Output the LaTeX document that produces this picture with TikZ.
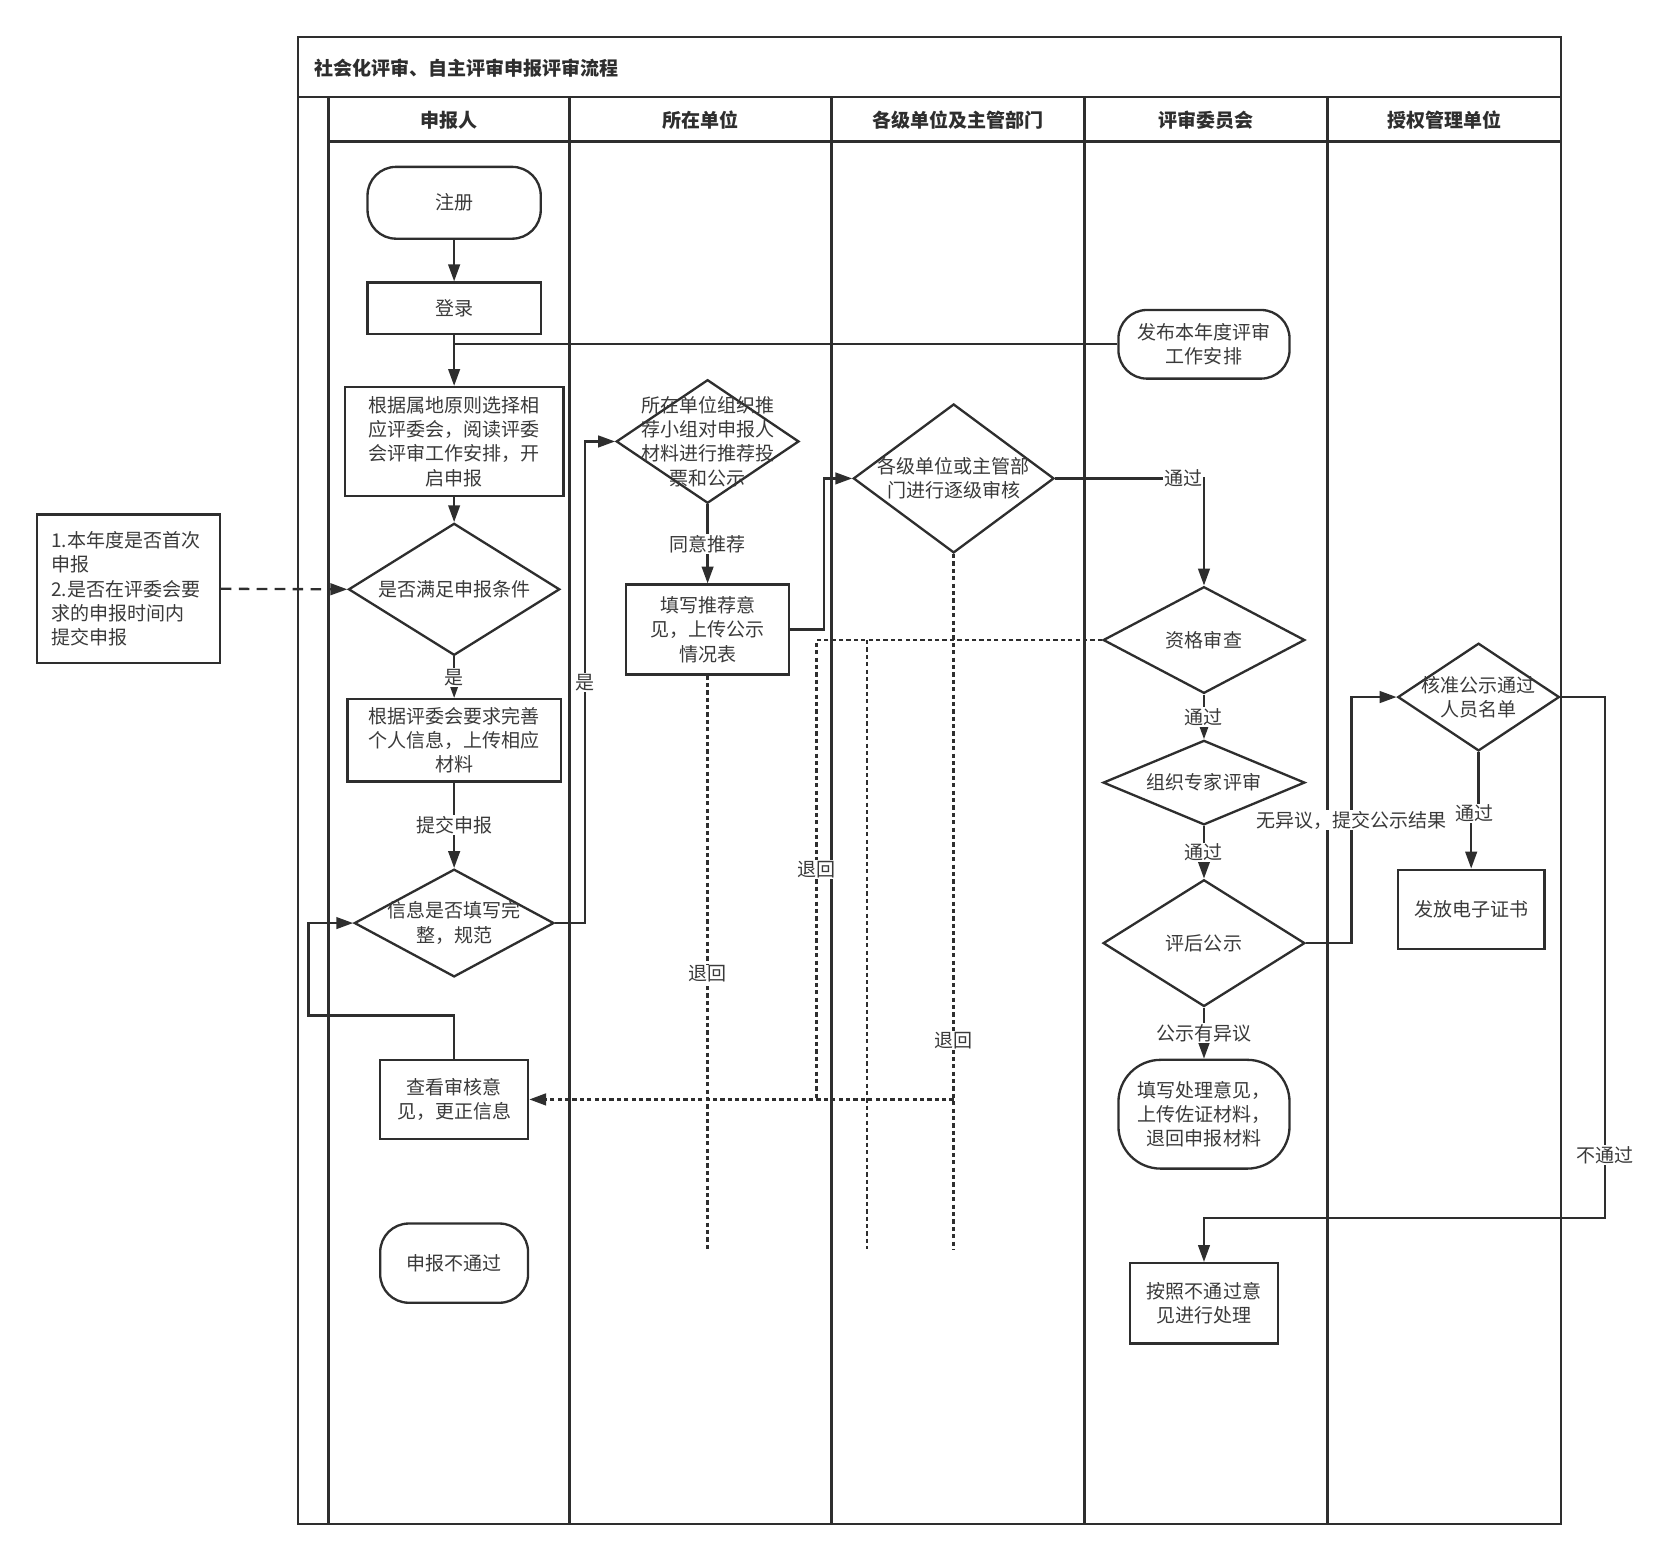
\documentclass[tikz,border=0pt]{standalone}
\usepackage{fontspec}
\setmainfont{Noto Sans CJK SC}
\usetikzlibrary{arrows.meta,shapes.geometric}
\definecolor{ink}{HTML}{2E2E2E}
\definecolor{txt}{HTML}{3A3A3A}
\tikzset{
	proc/.style={draw=ink, line width=2.2pt, rectangle, inner sep=0pt, align=center, text=txt},
	term/.style={proc, rounded corners=27pt},
	dec/.style={draw=ink, line width=2.2pt, diamond, inner sep=0pt},
	dectext/.style={align=center, text=txt, inner sep=0pt},
	hdr/.style={font=\fontsize{18}{23}\selectfont\bfseries, text=ink},
	lane/.style={draw=ink, line width=2.5pt},
	ln/.style={draw=ink, line width=2.2pt},
	arr/.style={ln, -{Triangle[length=16pt, width=11pt]}},
	dashpat/.style={dash pattern=on 10pt off 7pt},
	dot/.style={draw=ink, line width=2.6pt, dash pattern=on 4pt off 3pt},
	dotarr/.style={dot, -{Triangle[length=16pt, width=11pt]}},
	lbl/.style={fill=white, inner sep=1pt, text=txt}
}

\begin{document}
\begin{tikzpicture}[x=1pt, y=-1pt, font=\fontsize{18}{23}\selectfont]
			%%%%% START %%%%%
			\useasboundingbox (0, 0) rectangle (1568, 1478);

			% pool and lanes
			\draw[lane] (282, 35) rectangle (1478, 1443);
			\draw[lane] (282, 92) -- (1478, 92);
			\draw[lane] (311, 134) -- (1478, 134);
			\draw[lane] (311, 92) -- (311, 1443);
			\draw[lane] (539, 92) -- (539, 1443);
			\draw[lane] (787, 92) -- (787, 1443);
			\draw[lane] (1027, 92) -- (1027, 1443);
			\draw[lane] (1257, 92) -- (1257, 1443);

			\node[hdr, anchor=west] (tt) at (294, 65) {社会化评审、自主评审申报评审流程};
			\node[hdr] (h1) at (425, 114) {申报人};
			\node[hdr] (h2) at (663, 114) {所在单位};
			\node[hdr] (h3) at (907, 114) {各级单位及主管部门};
			\node[hdr] (h4) at (1142, 114) {评审委员会};
			\node[hdr] (h5) at (1368, 114) {授权管理单位};

			% applicant lane
			\node[term, minimum width=164pt, minimum height=68pt] (zc) at (430, 192) {注册};
			\node[proc, minimum width=164pt, minimum height=49pt] (dl) at (430, 292) {登录};
			\node[proc, minimum width=207pt, minimum height=103pt] (xz) at (430, 418) {根据属地原则选择相\\应评委会，阅读评委\\会评审工作安排，开\\启申报};
			\node[dec, minimum width=200pt, minimum height=125pt, label={[dectext]center:{是否满足申报条件}}] (sf) at (430, 558) {};
			\node[proc, minimum width=202pt, minimum height=78pt] (ws) at (430, 701) {根据评委会要求完善\\个人信息，上传相应\\材料};
			\node[dec, minimum width=189pt, minimum height=102pt, label={[dectext]center:{信息是否填写完\\整，规范}}] (xx) at (430, 874) {};
			\node[proc, minimum width=140pt, minimum height=75pt] (ck) at (430, 1041) {查看审核意\\见，更正信息};
			\node[term, minimum width=140pt, minimum height=75pt] (bg) at (430, 1196) {申报不通过};

			% note
			\node[proc, minimum width=173pt, minimum height=141pt, text width=146pt, align=left] (nt) at (121.5, 557.5) {1.本年度是否首次\\申报\\2.是否在评委会要\\求的申报时间内\\提交申报};

			% unit lane
			\node[dec, minimum width=173pt, minimum height=117pt, label={[dectext]center:{所在单位组织推\\荐小组对申报人\\材料进行推荐投\\票和公示}}] (tj) at (670, 418) {};
			\node[proc, minimum width=154pt, minimum height=85pt] (tx) at (670, 596) {填写推荐意\\见，上传公示\\情况表};

			% departments lane
			\node[dec, minimum width=190pt, minimum height=141pt, label={[dectext]center:{各级单位或主管部\\门进行逐级审核}}] (gj) at (903, 453) {};

			% committee lane
			\node[term, minimum width=162pt, minimum height=65pt] (fb) at (1140, 326) {发布本年度评审\\工作安排};
			\node[dec, minimum width=191pt, minimum height=101pt, label={[dectext]center:{资格审查}}] (zg) at (1140, 606) {};
			\node[dec, minimum width=191pt, minimum height=80pt, label={[dectext]center:{组织专家评审}}] (zj) at (1140, 741) {};
			\node[dec, minimum width=191pt, minimum height=120pt, label={[dectext]center:{评后公示}}] (hg) at (1140, 893) {};
			\node[term, rounded corners=40pt, minimum width=162pt, minimum height=103pt] (cl) at (1140, 1055) {填写处理意见，\\上传佐证材料，\\退回申报材料};
			\node[proc, minimum width=140pt, minimum height=76pt] (bt) at (1140, 1234) {按照不通过意\\见进行处理};

			% authority lane
			\node[dec, minimum width=153pt, minimum height=102pt, label={[dectext]center:{核准公示通过\\人员名单}}] (hz) at (1400, 660) {};
			\node[proc, minimum width=139pt, minimum height=75pt] (ff) at (1393, 861) {发放电子证书};

			% solid flow
			\draw[arr] (zc.south) -- (dl.north);
			\draw[arr] (dl.south) -- (xz.north);
			\draw[ln] (fb.west) -- (fb.west -| dl.south);
			\draw[arr] (xz.south) -- (sf.north);
			\draw[arr, dashpat] (nt.east) -- (sf.west);
			\draw[arr] (sf.south) -- node[lbl] {是} (ws.north);
			\draw[arr] (ws.south) -- node[lbl] {提交申报} (xx.north);
			\draw[arr] (xx.east) -- ++(28, 0) |- node[lbl, pos=0.25] {是} (tj.west);
			\draw[arr] (tj.south) -- node[lbl] {同意推荐} (tx.north);
			\draw[arr] (tx.east) -- ++(32, 0) |- (gj.west);
			\draw[arr] (gj.east) -| node[lbl, pos=0.43] {通过} (zg.north);
			\draw[arr] (zg.south) -- node[lbl] {通过} (zj.north);
			\draw[arr] (zj.south) -- node[lbl] {通过} (hg.north);
			\draw[arr] (hg.south) -- node[lbl] {公示有异议} (cl.north);
			\draw[arr] (hg.east) -- ++(43, 0) |- node[lbl, pos=0.25] {无异议，提交公示结果} (hz.west);
			\draw[arr] (hz.south) -- ++(0, 58) -| node[lbl, pos=0.3] {通过} (ff.north);
			\draw[arr] (hz.east) -- ++(42, 0) -- node[lbl, pos=0.88] {不通过} ++(0, 493) -| (bt.north);
			\draw[arr] (ck.north) -- ++(0, -41) -- ++(-138, 0) |- (xx.west);

			% returns
			\coordinate (d1) at (670, 1183);
			\coordinate (d2) at (903, 1183);
			\coordinate (r1) at (773, 1041);
			\coordinate (r2) at (821, 1183);
			\draw[dot] (tx.south) -- node[lbl, pos=0.52] {退回} (d1);
			\draw[dot] (gj.south) -- node[lbl, pos=0.7] {退回} (d2);
			\draw[dotarr] (gj.south |- ck.east) -- (ck.east);
			\draw[dot] (zg.west) -| node[lbl, pos=0.75] {退回} (r1);
			\draw[dot] (zg.west -| r2) -- (r2);
			%%%%% END %%%%%
\end{tikzpicture}
\end{document}
